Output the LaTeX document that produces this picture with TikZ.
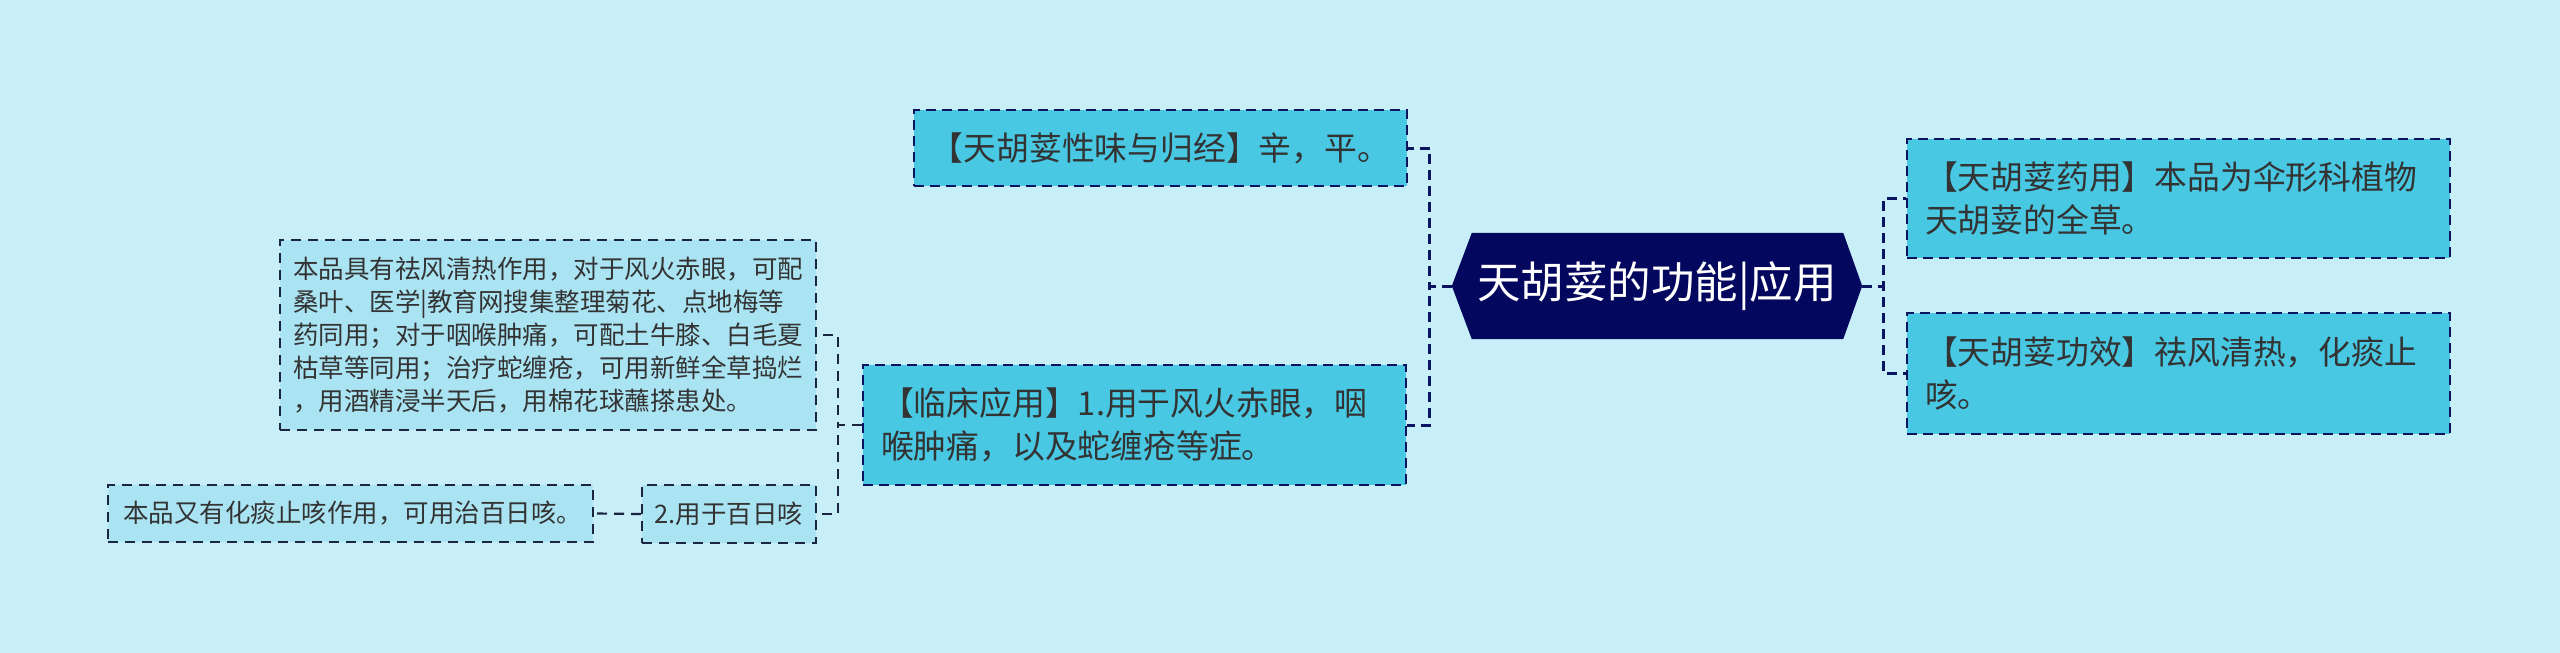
\documentclass[tikz,border=0pt]{standalone}
\usepackage{fontspec}
\newfontfamily\cjk{Noto Sans CJK SC}
\usetikzlibrary{backgrounds}
\definecolor{bgc}{HTML}{C8EFF7}
\definecolor{hubfill}{HTML}{04075E}
\definecolor{midfill}{HTML}{48C8E3}
\definecolor{leaffill}{HTML}{AAE4F3}
\definecolor{navyline}{HTML}{0B1460}
\definecolor{leafline}{HTML}{1A2540}
\definecolor{txt}{HTML}{333333}
\begin{document}
\begin{tikzpicture}[x=1pt,y=-1pt,
  hub/.style={text=white, font=\cjk\fontsize{43.5}{50}\selectfont, minimum width=410pt, minimum height=106pt, inner sep=0pt},
  topic/.style={draw=navyline, fill=midfill, line width=2.5pt, dash pattern=on 10pt off 6pt, text=txt, font=\cjk\fontsize{32.8}{43.5}\selectfont, inner ysep=0pt},
  leaf/.style={draw=leafline, fill=leaffill, line width=2pt, dash pattern=on 10pt off 7pt, text=txt, font=\cjk\fontsize{25.5}{33}\selectfont, inner ysep=0pt},
  mainlink/.style={draw=navyline, line width=3pt, dash pattern=on 10pt off 6pt},
  leaflink/.style={draw=leafline, line width=2.2pt, dash pattern=on 10pt off 7pt}
]
\useasboundingbox (0,0) rectangle (2560,653);

\node[hub] (hub) at (1657,286) {天胡荽的功能|应用};

\node[topic, minimum width=493pt, minimum height=76pt, inner xsep=0pt] (xw) at (1160.5,148) {【天胡荽性味与归经】辛，平。};
\node[topic, minimum height=120pt, inner xsep=18pt, text width=507pt, align=left] (lc) at (1134.5,425) {【临床应用】1.用于风火赤眼，咽\\喉肿痛，以及蛇缠疮等症。};
\node[topic, minimum height=119pt, inner xsep=18pt, text width=507pt, align=left] (r1) at (2178.5,198.5) {【天胡荽药用】本品为伞形科植物\\天胡荽的全草。};
\node[topic, minimum height=121pt, inner xsep=18pt, text width=507pt, align=left] (r2) at (2178.5,373.5) {【天胡荽功效】祛风清热，化痰止\\咳。};

\node[leaf, minimum height=190pt, inner xsep=13pt, text width=510pt, align=left] (big) at (548,335) {本品具有祛风清热作用，对于风火赤眼，可配\\桑叶、医学|教育网搜集整理菊花、点地梅等\\药同用；对于咽喉肿痛，可配土牛膝、白毛夏\\枯草等同用；治疗蛇缠疮，可用新鲜全草捣烂\\，用酒精浸半天后，用棉花球蘸搽患处。};
\node[leaf, minimum width=174pt, minimum height=58pt, inner xsep=0pt] (b2) at (729,514) {2.用于百日咳};
\node[leaf, minimum height=57pt, inner xsep=15pt, text width=455pt, align=left] (bl) at (350.5,513.5) {本品又有化痰止咳作用，可用治百日咳。};

\begin{scope}[on background layer]
\fill[bgc] (0,0) rectangle (2560,653);
\fill[hubfill] (hub.west) -- ([xshift=20pt]hub.north west) -- ([xshift=-19pt]hub.north east) -- (hub.east) -- ([xshift=-19pt]hub.south east) -- ([xshift=20pt]hub.south west) -- cycle;
\end{scope}

\draw[mainlink] (hub.west) -- ++(-22,0) |- (xw.east);
\draw[mainlink] (hub.west) -- ++(-22,0) |- (lc.east);
\draw[mainlink] (hub.east) -- ++(21,0) |- (r1.west);
\draw[mainlink] (hub.east) -- ++(21,0) |- (r2.west);

\draw[leaflink] (lc.west) -- ++(-24,0) |- (big.east);
\draw[leaflink] (lc.west) -- ++(-24,0) |- (b2.east);
\draw[leaflink] (b2.west) -- (bl.east);
\end{tikzpicture}
\end{document}
